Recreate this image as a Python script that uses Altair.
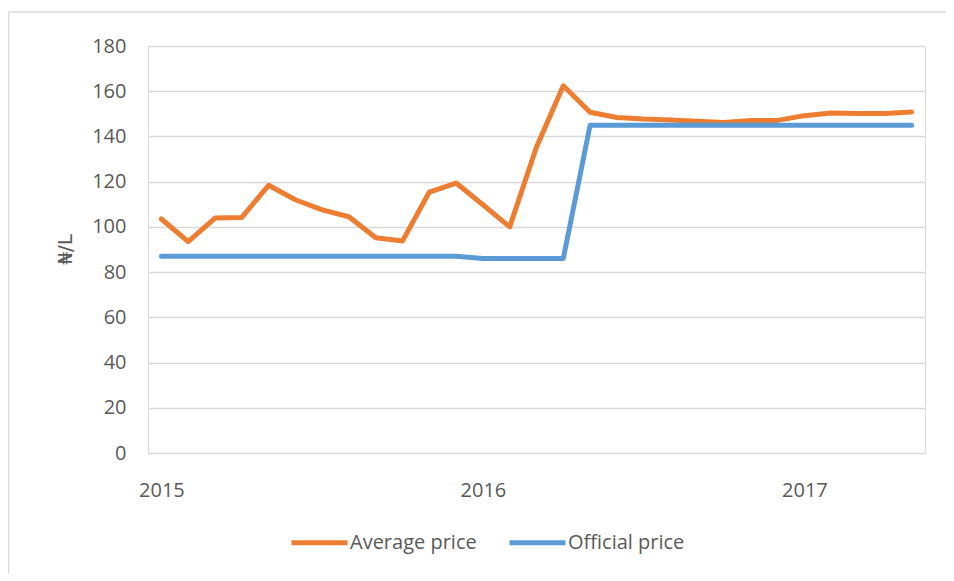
import altair as alt
import pandas as pd

months = [
    "2015-01", "2015-02", "2015-03", "2015-04", "2015-05", "2015-06",
    "2015-07", "2015-08", "2015-09", "2015-10", "2015-11", "2015-12",
    "2016-01", "2016-02", "2016-03", "2016-04", "2016-05", "2016-06",
    "2016-07", "2016-08", "2016-09", "2016-10", "2016-11", "2016-12",
    "2017-01", "2017-02", "2017-03", "2017-04", "2017-05",
]
average_price = [103.5, 93.5, 103.9, 104.2, 118.4, 112.0, 107.5, 104.5, 95.2, 93.8,
                 115.4, 119.4, 109.8, 100.0, 135.3, 162.4, 150.7, 148.4, 147.7, 147.3,
                 146.7, 146.2, 147.0, 147.1, 149.2, 150.4, 150.1, 150.2, 150.8]
official_price = [87, 87, 87, 87, 87, 87, 87, 87, 87, 87, 87, 87,
                  86, 86, 86, 86, 145, 145, 145, 145, 145, 145, 145, 145,
                  145, 145, 145, 145, 145]
series_names = ["Average price", "Official price"]
series_colors = ["#ED7D31", "#5B9BD5"]
year_ticks = [0, 12, 24]
year_labels = ["2015", "2016", "2017"]
y_ticks = [0, 20, 40, 60, 80, 100, 120, 140, 160, 180]

rows = []
for i, m in enumerate(months):
    rows.append({"idx": i, "month": m, "series": series_names[0], "price": average_price[i]})
    rows.append({"idx": i, "month": m, "series": series_names[1], "price": official_price[i]})
df = pd.DataFrame(rows)

label_expr = " : ".join(
    [f"datum.value == {v} ? '{l}'" for v, l in zip(year_ticks, year_labels)]
) + " : ''"

TEXT = "#595959"
GRID = "#d9d9d9"
FONT = "Open Sans"

lines = alt.Chart(df).mark_line(strokeWidth=5, strokeCap="round", strokeJoin="round").encode(
    x=alt.X("idx:Q",
            scale=alt.Scale(domain=[-0.5, len(months) - 0.5], nice=False, zero=False),
            axis=alt.Axis(values=year_ticks, labelExpr=label_expr, grid=False, domain=False,
                          ticks=False, title=None, labelFontSize=20, labelColor=TEXT,
                          labelFont=FONT, labelPadding=27)),
    y=alt.Y("price:Q",
            scale=alt.Scale(domain=[0, 180], nice=False),
            axis=alt.Axis(values=y_ticks, grid=True, gridColor=GRID, gridWidth=1.5,
                          domain=False, ticks=False, labelFontSize=20, labelColor=TEXT,
                          labelFont=FONT, labelPadding=22, title="₦/L",
                          titleFont="DejaVu Sans", titleFontSize=20, titleFontWeight="normal",
                          titleColor=TEXT, titleX=-83, titleY=203, titleAngle=-90,
                          titleAlign="center", titleBaseline="middle")),
    color=alt.Color("series:N",
                    scale=alt.Scale(domain=series_names, range=series_colors),
                    legend=alt.Legend(orient="none", legendX=141, legendY=466,
                                      direction="horizontal", title=None,
                                      symbolType="stroke", symbolSize=3136,
                                      symbolStrokeWidth=5, labelFontSize=20,
                                      labelFont=FONT, labelColor=TEXT, labelOffset=0,
                                      columnPadding=22)),
    detail="series:N",
)

border_left = alt.Chart(pd.DataFrame({"k": [0]})).mark_rule(color=GRID, strokeWidth=1.5).encode(
    x=alt.value(-139.5), y=alt.value(-34), y2=alt.value(600)
)
border_top = alt.Chart(pd.DataFrame({"k": [0]})).mark_rule(color=GRID, strokeWidth=1.5).encode(
    x=alt.value(-139.5), x2=alt.value(900), y=alt.value(-34)
)

chart = alt.layer(border_left, border_top, lines).properties(
    width=777, height=407,
    autosize=alt.AutoSizeParams(type="none"),
    padding={"left": 140, "top": 38, "right": 21, "bottom": 120},
).configure_view(stroke=None).configure(background="white")

chart.save("out.html", embed_options={"renderer": "svg", "actions": False})
